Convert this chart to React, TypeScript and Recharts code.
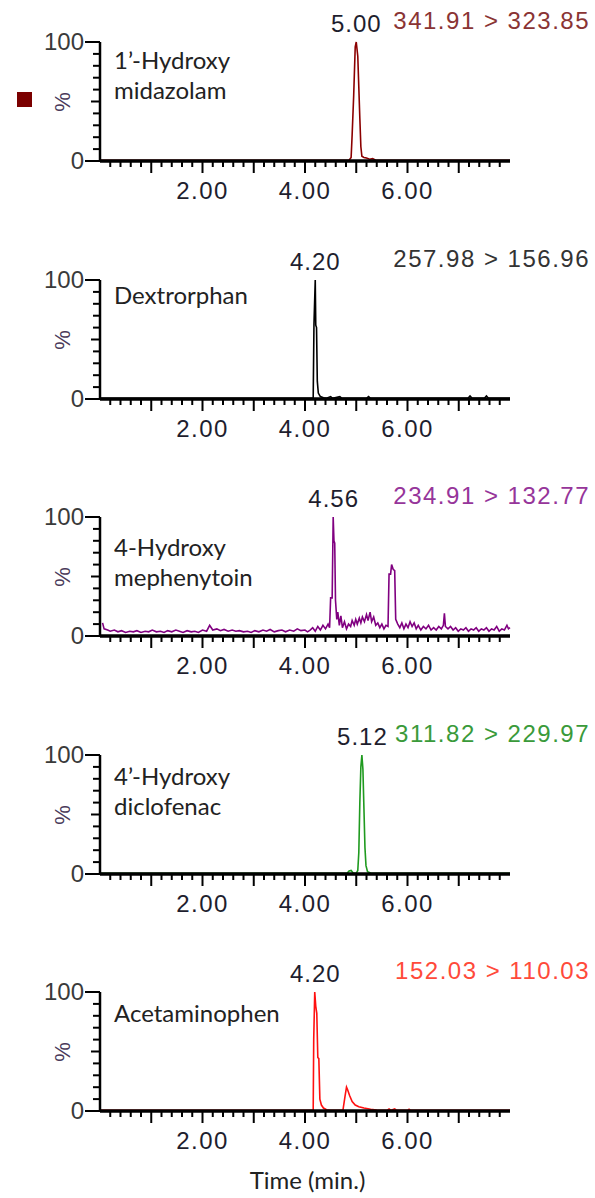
import React from "react";
import { LineChart, Line, XAxis, YAxis, ReferenceDot } from "recharts";

// retention time (min), relative intensity (%)
const midazolam: [number, number][] = [
  [0, 0.6], [4.86, 0.6], [4.9, 3], [4.92, 22], [4.95, 55], [4.98, 96], [5.0, 100],
  [5.03, 88], [5.05, 62], [5.07, 36], [5.09, 12], [5.11, 4], [5.15, 3], [5.2, 2.5],
  [5.26, 1.5], [5.32, 2], [5.38, 0.6], [8, 0.6],
];

const dextrorphan: [number, number][] = [
  [0, 0.6], [4.16, 0.6], [4.175, 63], [4.2, 100], [4.21, 62], [4.225, 60], [4.24, 15],
  [4.26, 5], [4.3, 2], [4.36, 1], [4.42, 0.6], [4.5, 2], [4.54, 0.6], [4.68, 2],
  [4.72, 0.6], [5.2, 0.6], [5.24, 2], [5.28, 0.6], [7.18, 0.6], [7.22, 2.5],
  [7.26, 0.6], [7.5, 0.6], [7.54, 2.5], [7.58, 0.6], [8, 0.6],
];

const mephenytoin: [number, number][] = [
  [0.05, 11], [0.08, 6], [0.15, 5], [0.2, 4], [0.28, 5], [0.35, 3.5], [0.42, 4.5],
  [0.5, 3], [0.58, 4], [0.65, 3.5], [0.72, 4.5], [0.8, 3], [0.88, 4], [0.95, 3.5],
  [1.02, 5], [1.1, 3.5], [1.18, 4], [1.25, 3], [1.32, 4.5], [1.4, 3.5], [1.48, 5],
  [1.55, 4], [1.62, 3], [1.7, 4.5], [1.78, 3.5], [1.85, 4], [1.92, 3], [2.0, 5],
  [2.08, 4], [2.14, 9], [2.2, 5], [2.28, 6], [2.35, 4.5], [2.42, 5.5], [2.5, 4],
  [2.58, 5], [2.65, 4], [2.72, 4.5], [2.8, 3.5], [2.88, 4], [2.95, 3], [3.02, 4.5],
  [3.1, 3.5], [3.18, 5], [3.25, 4], [3.32, 5.5], [3.4, 3.5], [3.48, 4.5], [3.55, 5],
  [3.62, 3.5], [3.7, 5], [3.78, 4], [3.85, 6], [3.92, 4.5], [4.0, 5], [4.05, 3.5],
  [4.1, 5], [4.15, 7], [4.2, 4], [4.25, 8], [4.3, 5], [4.35, 9], [4.4, 6], [4.45, 10],
  [4.48, 7], [4.5, 32], [4.53, 32], [4.55, 100], [4.565, 80], [4.58, 78], [4.595, 30],
  [4.62, 14], [4.64, 20], [4.67, 9], [4.7, 17], [4.73, 7], [4.77, 12], [4.81, 6],
  [4.85, 10], [4.89, 8], [4.92, 13], [4.96, 9], [4.99, 14], [5.02, 10], [5.06, 15],
  [5.09, 11], [5.12, 16], [5.16, 12], [5.2, 18], [5.23, 13], [5.27, 20], [5.3, 12],
  [5.34, 16], [5.38, 9], [5.42, 11], [5.46, 7], [5.5, 10], [5.54, 6], [5.58, 9],
  [5.62, 8], [5.64, 52], [5.67, 52], [5.69, 60], [5.72, 56], [5.75, 55], [5.77, 14],
  [5.81, 10], [5.85, 7], [5.89, 11], [5.93, 6], [5.97, 10], [6.01, 7], [6.05, 12],
  [6.09, 8], [6.13, 11], [6.17, 6], [6.21, 9], [6.26, 5], [6.31, 8], [6.36, 6],
  [6.41, 9], [6.46, 5], [6.51, 7], [6.56, 5], [6.61, 8], [6.66, 6], [6.7, 9],
  [6.72, 19], [6.74, 8], [6.79, 6], [6.84, 8], [6.89, 5], [6.94, 7], [6.99, 4],
  [7.04, 6], [7.09, 5], [7.14, 7], [7.19, 4], [7.24, 6], [7.29, 5], [7.34, 7],
  [7.39, 4], [7.44, 6], [7.49, 5], [7.54, 7], [7.59, 4], [7.64, 6], [7.69, 5],
  [7.74, 8], [7.79, 4], [7.84, 6], [7.89, 5], [7.94, 9], [7.97, 6], [8.0, 7],
];

const diclofenac: [number, number][] = [
  [0, 0.6], [4.82, 0.6], [4.86, 2.5], [4.9, 3], [4.94, 0.8], [5.0, 0.6], [5.03, 3],
  [5.05, 18], [5.07, 60], [5.09, 90], [5.11, 100], [5.13, 88], [5.15, 55], [5.17, 22],
  [5.19, 7], [5.22, 2], [5.28, 0.8], [8, 0.6],
];

const acetaminophen: [number, number][] = [
  [0, 0.6], [4.16, 0.6], [4.17, 60], [4.19, 100], [4.21, 88], [4.23, 82], [4.25, 45],
  [4.27, 44], [4.29, 10], [4.32, 5], [4.36, 2.5], [4.42, 1], [4.5, 0.6], [4.74, 0.6],
  [4.78, 12], [4.81, 20], [4.83, 18], [4.87, 13], [4.92, 8], [4.98, 5], [5.05, 3.5],
  [5.15, 2.5], [5.28, 1.5], [5.4, 0.8], [5.6, 0.6], [5.64, 1.8], [5.68, 0.6],
  [5.75, 1.8], [5.79, 0.6], [6.0, 0.6], [6.03, 1.5], [6.06, 0.6], [8, 0.6],
];

const compoundNames = [
  ["1\u2019-Hydroxy", "midazolam"],
  ["Dextrorphan"],
  ["4-Hydroxy", "mephenytoin"],
  ["4\u2019-Hydroxy", "diclofenac"],
  ["Acetaminophen"],
];
const transitions = [
  "341.91 > 323.85",
  "257.98 > 156.96",
  "234.91 > 132.77",
  "311.82 > 229.97",
  "152.03 > 110.03",
];
const peakTimes = [5.0, 4.2, 4.56, 5.12, 4.2];
const traces = [midazolam, dextrorphan, mephenytoin, diclofenac, acetaminophen];

const X_TICKS = Array.from({ length: 39 }, (_, i) => Math.round((i + 1) * 2) / 10);
const X_LABELS = [2, 4, 6];
const Y_TICKS = [0, 10, 20, 30, 40, 50, 60, 70, 80, 90, 100];
const Y_LABELS = [0, 100];

const lineColors = ["#8b0000", "#000000", "#800080", "#1f9a1f", "#ff1010"];
const titleColors = ["#8a3434", "#333333", "#96359a", "#3a9a3a", "#ff4a3a"];
const nameTops = [[60, 90], [295], [547, 577], [776, 806], [1013]];

const NUM_FONT = '"Liberation Sans", Arial, sans-serif';
const NAME_FONT = 'Lato, "Open Sans", sans-serif';

const PANEL_H = 237.5;
const PLOT_TOP = 42;

const XTick = (props: any) => {
  const { x, y, payload } = props;
  const v = payload.value;
  const major = Math.abs(v - Math.round(v)) < 0.001;
  return (
    <g>
      <line x1={x} x2={x} y1={y} y2={y + (major ? 12 : 6)} stroke="#000" strokeWidth={2} />
      {major && X_LABELS.includes(Math.round(v)) && (
        <text x={x} y={y + 38} textAnchor="middle" fontFamily={NUM_FONT} fontSize={24}
          letterSpacing={1.5} fill="#1e1e2e">
          {v.toFixed(2)}
        </text>
      )}
    </g>
  );
};

const YTick = (props: any) => {
  const { x, y, payload } = props;
  const v = payload.value;
  const labeled = Y_LABELS.includes(v);
  const len = labeled ? 15 : v === 50 ? 9 : 7;
  return (
    <g>
      <line x1={x - len} x2={x} y1={y} y2={y} stroke="#000" strokeWidth={2} />
      {labeled && (
        <text x={x - 16} y={y + 8} textAnchor="end" fontFamily={NUM_FONT} fontSize={24}
          fill="#3a3a3a">
          {v}
        </text>
      )}
    </g>
  );
};

function Panel({ index }: { index: number }) {
  const rows = traces[index].map(([t, v]) => ({ t, v }));
  const top = index * PANEL_H;
  const peak = peakTimes[index];
  return (
    <div style={{ position: "absolute", left: 0, top, width: 595, height: 237 }}>
      <LineChart width={595} height={237} data={rows}
        margin={{ top: PLOT_TOP, right: 85, bottom: 36, left: 0 }}>
        <XAxis type="number" dataKey="t" domain={[0, 8]} ticks={X_TICKS} interval={0}
          tick={<XTick />} tickLine={false} tickSize={0} tickMargin={0} height={40}
          axisLine={{ stroke: "#000", strokeWidth: 3.5 }} />
        <YAxis type="number" domain={[0, 100]} ticks={Y_TICKS} interval={0}
          tick={<YTick />} tickLine={false} tickSize={0} tickMargin={0} width={100}
          axisLine={{ stroke: "#000", strokeWidth: 2.5 }} />
        <Line type="linear" dataKey="v" stroke={lineColors[index]} strokeWidth={1.6}
          dot={false} isAnimationActive={false} />
        <ReferenceDot x={peak} y={100} r={0}
          shape={(p: any) => (
            <text x={p.cx} y={p.cy - 10} textAnchor="middle" fontFamily={NUM_FONT}
              fontSize={24} letterSpacing={1} fill="#1e1e2e">
              {peak.toFixed(2)}
            </text>
          )} />
      </LineChart>
    </div>
  );
}

export default function App() {
  return (
    <div style={{ position: "absolute", left: 0, top: 0, width: 595, height: 1198, background: "#fff" }}>
      {traces.map((_, i) => <Panel key={i} index={i} />)}
      {transitions.map((t, i) => (
        <div key={"tr" + i} style={{
          position: "absolute", right: 5, top: i * PANEL_H + PLOT_TOP - 21 - 14, height: 28,
          lineHeight: "28px", fontFamily: NUM_FONT, fontSize: 24, letterSpacing: 1.5,
          color: titleColors[i], whiteSpace: "nowrap",
        }}>{t}</div>
      ))}
      {compoundNames.map((lines, i) => lines.map((s, j) => (
        <div key={"n" + i + j} style={{
          position: "absolute", left: 114, top: nameTops[i][j] - 15, height: 30,
          lineHeight: "30px", fontFamily: NAME_FONT, fontSize: 24, color: "#222",
          whiteSpace: "nowrap",
        }}>{s}</div>
      )))}
      {traces.map((_, i) => (
        <div key={"pct" + i} style={{
          position: "absolute", left: 51, top: i * PANEL_H + 88, width: 24, height: 28,
          lineHeight: "28px", textAlign: "center", fontFamily: NUM_FONT, fontSize: 22,
          color: "#4a3a5a", transform: "rotate(-90deg)",
        }}>%</div>
      ))}
      <div style={{ position: "absolute", left: 17, top: 92, width: 15, height: 15, background: "#7b0000" }} />
      <div style={{
        position: "absolute", left: 0, width: 595, top: 1165, height: 30, lineHeight: "30px",
        textAlign: "center", paddingLeft: 20, boxSizing: "border-box", fontFamily: NAME_FONT,
        fontSize: 24, color: "#222",
      }}>Time (min.)</div>
    </div>
  );
}
